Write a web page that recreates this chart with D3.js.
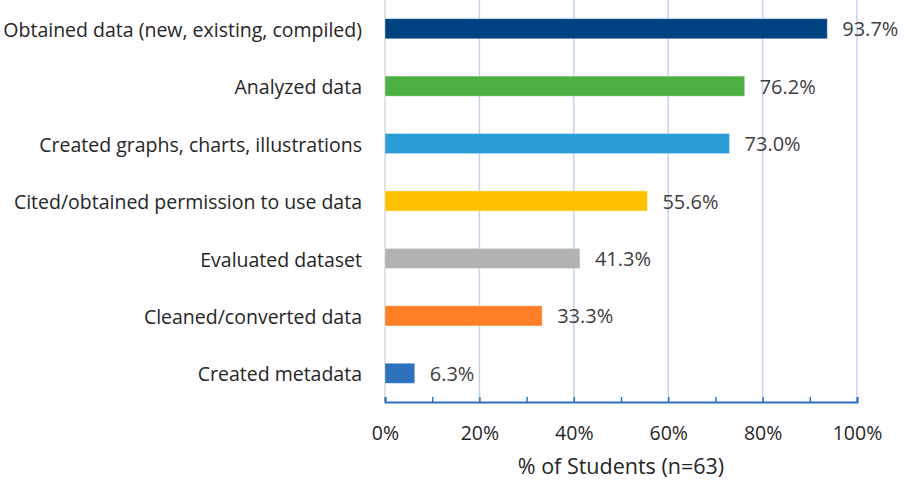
<!DOCTYPE html>
<html>
<head>
<meta charset="utf-8">
<script src="https://cdn.jsdelivr.net/npm/d3@7"></script>
<style>
  body { margin: 0; background: #fff; }
  text { font-family: "Open Sans", "Noto Sans", sans-serif; fill: #262626; }
</style>
</head>
<body>
<div id="chart"></div>
<script>
const categories = [
  'Obtained data (new, existing, compiled)',
  'Analyzed data',
  'Created graphs, charts, illustrations',
  'Cited/obtained permission to use data',
  'Evaluated dataset',
  'Cleaned/converted data',
  'Created metadata'
];
const values = [93.7, 76.2, 73.0, 55.6, 41.3, 33.3, 6.3];
const colors = ['#00427f', '#4cb043', '#2b9ed8', '#ffc000', '#b1b2b4', '#ff7f27', '#2e71bd'];
const tickValues = [0, 20, 40, 60, 80, 100];

const width = 905, height = 485;
const plotLeft = 385, plotRight = 857, plotTop = 0, plotBottom = 402;
const font = '"Open Sans", "Noto Sans", sans-serif';

const svg = d3.select('#chart').append('svg')
  .attr('width', width)
  .attr('height', height);

const x = d3.scaleLinear().domain([0, 100]).range([plotLeft, plotRight]);
const y = d3.scaleBand().domain(categories).range([plotTop, plotBottom])
  .paddingInner(0.65).paddingOuter(0.325);

// gridlines
svg.append('g').selectAll('line')
  .data(tickValues.slice(1))
  .enter().append('line')
  .attr('x1', d => x(d)).attr('x2', d => x(d))
  .attr('y1', plotTop).attr('y2', plotBottom)
  .attr('stroke', '#c3d3ec').attr('stroke-width', 1.5);

// left edge
svg.append('line')
  .attr('x1', plotLeft).attr('x2', plotLeft)
  .attr('y1', plotTop).attr('y2', plotBottom)
  .attr('stroke', '#d9d9d9').attr('stroke-width', 1.5);

// bars
svg.append('g').selectAll('rect')
  .data(values)
  .enter().append('rect')
  .attr('x', x(0))
  .attr('y', (d, i) => y(categories[i]))
  .attr('width', d => x(d) - x(0))
  .attr('height', y.bandwidth())
  .attr('fill', (d, i) => colors[i])
  .attr('stroke', 'rgba(255,255,255,0.35)')
  .attr('stroke-width', 1);

// value labels
svg.append('g').selectAll('text')
  .data(values)
  .enter().append('text')
  .attr('x', d => x(d) + 15)
  .attr('y', (d, i) => y(categories[i]) + y.bandwidth() / 2)
  .attr('dy', '0.38em')
  .style('font-size', '20px')
  .style('fill', '#404040')
  .text(d => d.toFixed(1) + '%');

// category labels
svg.append('g').selectAll('text')
  .data(categories)
  .enter().append('text')
  .attr('x', 362)
  .attr('y', d => y(d) + y.bandwidth() / 2)
  .attr('dy', '0.42em')
  .attr('text-anchor', 'end')
  .style('font-size', '19.5px')
  .text(d => d);

// x axis
const xAxis = d3.axisBottom(x)
  .tickValues(d3.range(0, 101, 10))
  .tickSize(-5)
  .tickFormat(d => d % 20 === 0 ? d + '%' : '');

const ax = svg.append('g')
  .attr('transform', `translate(0,${plotBottom})`)
  .call(xAxis);
ax.select('.domain').attr('stroke', '#2e71bd').attr('stroke-width', 2);
ax.selectAll('.tick line').attr('stroke', '#2e71bd').attr('stroke-width', 1.5);
ax.selectAll('.tick text')
  .attr('y', 24)
  .style('font-size', '19.5px')
  .style('font-family', font)
  .style('fill', '#262626');

svg.append('text')
  .attr('x', (plotLeft + plotRight) / 2)
  .attr('y', 474)
  .attr('text-anchor', 'middle')
  .style('font-size', '21.5px')
  .text('% of Students (n=63)');
</script>
</body>
</html>
